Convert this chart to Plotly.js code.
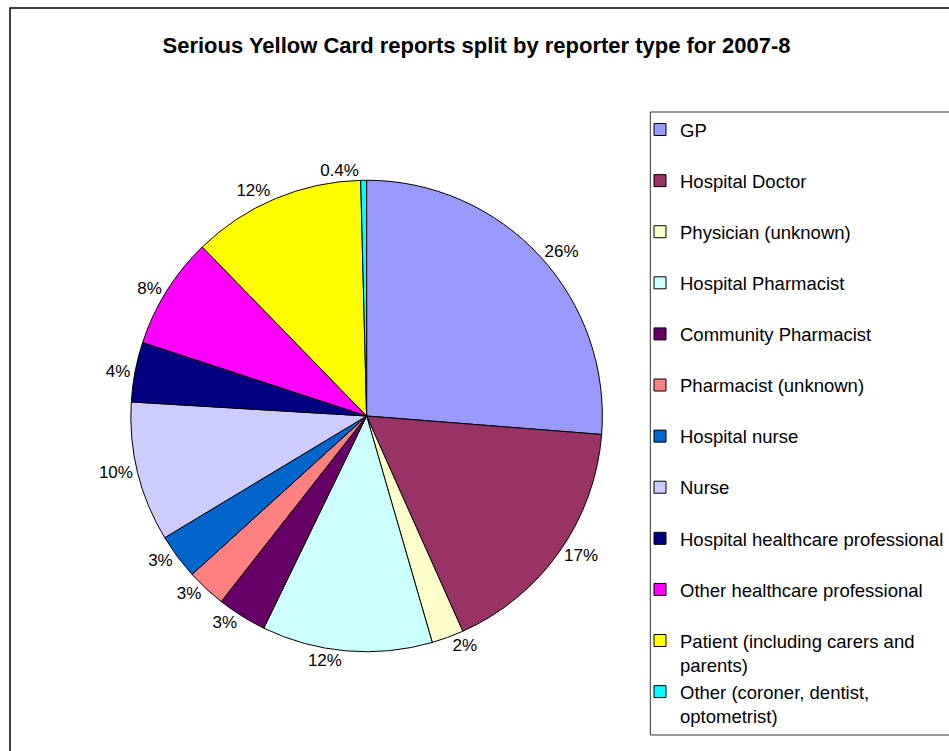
<!DOCTYPE html>
<html>
<head>
<meta charset="utf-8">
<script src="https://cdn.plot.ly/plotly-3.0.1.min.js"></script>
<style>
  html, body { margin: 0; padding: 0; background: #fff; overflow: hidden; }
  #chart { width: 949px; height: 751px; }
</style>
</head>
<body>
<div id="chart"></div>
<script>
// ---- data ----
const categories = [
  'GP',
  'Hospital Doctor',
  'Physician (unknown)',
  'Hospital Pharmacist',
  'Community Pharmacist',
  'Pharmacist (unknown)',
  'Hospital nurse',
  'Nurse',
  'Hospital healthcare professional',
  'Other healthcare professional',
  'Patient (including carers and parents)',
  'Other (coroner, dentist, optometrist)'
];
const shares = [26.3, 17.1, 2.2, 11.7, 3.4, 2.7, 3.1, 9.6, 4.1, 7.7, 11.9, 0.4];
const shareLabels = ['26%', '17%', '2%', '12%', '3%', '3%', '3%', '10%', '4%', '8%', '12%', '0.4%'];
const sliceColors = ['#9999FF', '#993366', '#FFFFCC', '#CCFFFF', '#660066', '#FF8080',
                     '#0066CC', '#CCCCFF', '#000080', '#FF00FF', '#FFFF00', '#00FFFF'];
const chartTitle = 'Serious Yellow Card reports split by reporter type for 2007-8';

// wrap long legend names like the original, pad single-line ones so every entry has equal height
function legendText(s) {
  const words = s.split(' ');
  const lines = [];
  let cur = '';
  words.forEach(w => {
    const test = cur ? cur + ' ' + w : w;
    if (test.length > 33 && cur) { lines.push(cur); cur = w; } else { cur = test; }
  });
  lines.push(cur);
  if (lines.length === 1) lines.push(' ');
  return lines.join('<br>');
}
const displayLabels = categories.map(legendText);

const W = 949, H = 751;
const cx = 367, cy = 416, r = 236;
const FONT = 'Liberation Sans, Arial, sans-serif';

const trace = {
  type: 'pie',
  labels: displayLabels,
  values: shares,
  text: shareLabels,
  textinfo: 'text',
  textposition: 'outside',
  sort: false,
  direction: 'clockwise',
  rotation: 0,
  hoverinfo: 'label+percent',
  marker: { colors: sliceColors, line: { color: '#000000', width: 1 } },
  outsidetextfont: { family: FONT, size: 17, color: '#000' },
  domain: {
    x: [(cx - r) / W, (cx + r) / W],
    y: [(H - cy - r) / H, (H - cy + r) / H]
  }
};

const layout = {
  width: W, height: H,
  margin: { l: 0, r: 0, t: 0, b: 0 },
  paper_bgcolor: '#ffffff',
  font: { family: FONT, color: '#000' },
  title: {
    text: '<b>' + chartTitle + '</b>',
    font: { family: FONT, size: 22, color: '#000' },
    x: 477 / W, xanchor: 'center',
    y: 1 - 45 / H, yanchor: 'middle',
    xref: 'paper', yref: 'paper'
  },
  showlegend: true,
  legend: {
    x: 641 / W, xanchor: 'left',
    y: 1 - 111 / H, yanchor: 'top',
    valign: 'top',
    bgcolor: 'rgba(0,0,0,0)',
    borderwidth: 0,
    font: { family: FONT, size: 18.5, color: '#000' },
    traceorder: 'normal'
  },
  shapes: [
    { type: 'rect', xref: 'paper', yref: 'paper', x0: 10 / W, x1: 1.02, y0: -0.02, y1: 1 - 8 / H,
      line: { color: '#000', width: 1.5 }, fillcolor: 'rgba(0,0,0,0)' },
    { type: 'rect', xref: 'paper', yref: 'paper', x0: 651 / W, x1: 1.02, y0: 1 - 735 / H, y1: 1 - 112 / H,
      line: { color: '#333', width: 1 }, fillcolor: 'rgba(0,0,0,0)' }
  ]
};

Plotly.newPlot('chart', [trace], layout, { displayModeBar: false, staticPlot: true });
</script>
</body>
</html>
